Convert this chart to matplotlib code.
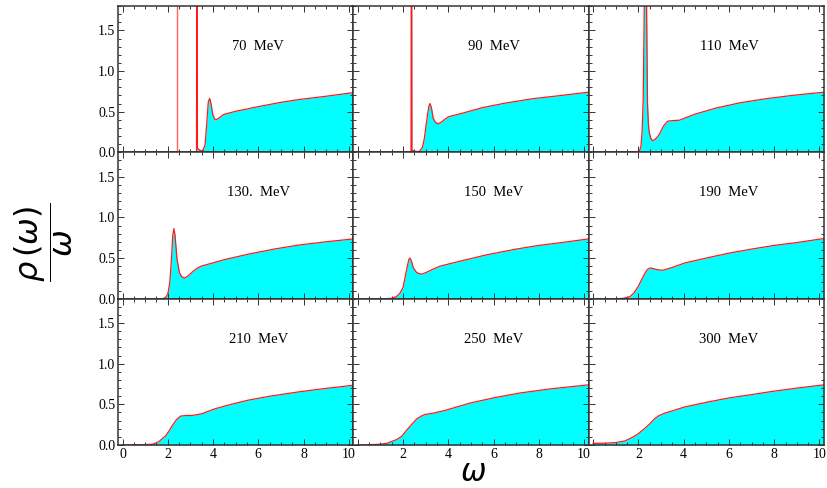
import matplotlib
matplotlib.use("Agg")
import matplotlib.pyplot as plt
from matplotlib.ticker import MultipleLocator, FixedLocator

# ---------------- data ----------------
labels = ["70  MeV", "90  MeV", "110  MeV",
          "130.  MeV", "150  MeV", "190  MeV",
          "210  MeV", "250  MeV", "300  MeV"]

w_70 = [0, 3.27, 3.29, 3.31, 3.40, 3.55, 3.65, 3.72, 3.79, 3.85, 3.91, 3.99, 4.07, 4.14,
        4.25, 4.46, 5.0, 6.05, 7.0, 7.81, 9.0, 10.2]
r_70 = [0, 0, 5.0, 0.05, 0.03, 0.01, 0.10, 0.35, 0.62, 0.663, 0.60, 0.465, 0.41, 0.40,
        0.42, 0.465, 0.505, 0.565, 0.615, 0.65, 0.69, 0.735]
spike_70 = [2.39]

w_90 = [0, 2.35, 2.37, 2.39, 2.49, 2.71, 2.85, 2.93, 3.0, 3.08, 3.14, 3.19, 3.25, 3.33,
        3.43, 3.55, 3.68, 3.82, 4.0, 4.6, 5.51, 6.5, 7.73, 9.0, 10.2]
r_90 = [0, 0, 5.0, 0.03, 0.012, 0.01, 0.06, 0.157, 0.30, 0.465, 0.57, 0.60, 0.55, 0.42,
        0.37, 0.35, 0.37, 0.40, 0.437, 0.48, 0.55, 0.605, 0.66, 0.70, 0.74]

w_110 = [0, 1.96, 2.05, 2.11, 2.16, 2.21, 2.25, 2.28, 2.31, 2.34, 2.37, 2.40, 2.44, 2.48,
         2.55, 2.62, 2.72, 2.82, 2.92, 3.1, 3.29, 3.5, 3.81, 4.5, 5.43, 6.5, 7.64, 8.8, 10.2]
r_110 = [0, 0, 0.02, 0.074, 0.25, 0.65, 1.6, 2.6, 3.0, 2.4, 1.5, 0.6, 0.35, 0.24,
         0.17, 0.145, 0.155, 0.185, 0.22, 0.32, 0.383, 0.39, 0.395, 0.47, 0.545, 0.61, 0.66, 0.70, 0.74]

w_130 = [0, 1.79, 1.92, 2.01, 2.09, 2.16, 2.22, 2.27, 2.32, 2.41, 2.52, 2.62, 2.74, 2.9,
         3.11, 3.3, 3.48, 4.5, 5.6, 6.7, 7.8, 9.0, 10.2]
r_130 = [0, 0, 0.02, 0.067, 0.20, 0.48, 0.78, 0.862, 0.78, 0.48, 0.315, 0.27, 0.253, 0.28,
         0.335, 0.375, 0.40, 0.48, 0.55, 0.61, 0.66, 0.70, 0.735]

w_150 = [0, 1.3, 1.49, 1.7, 1.86, 2.0, 2.15, 2.25, 2.30, 2.36, 2.45, 2.6, 2.81, 3.0,
         3.3, 3.63, 4.5, 5.7, 7.0, 8.0, 9.0, 10.2]
r_150 = [0, 0, 0.005, 0.025, 0.067, 0.14, 0.35, 0.48, 0.50, 0.47, 0.38, 0.32, 0.30, 0.32,
         0.36, 0.40, 0.46, 0.54, 0.61, 0.655, 0.69, 0.735]

w_190 = [0, 1.1, 1.35, 1.62, 1.8, 1.99, 2.15, 2.29, 2.4, 2.51, 2.65, 2.85, 3.1, 3.5,
         4.06, 5.0, 6.0, 7.0, 8.0, 9.0, 10.2]
r_190 = [0, 0, 0.005, 0.025, 0.07, 0.15, 0.24, 0.315, 0.36, 0.378, 0.37, 0.355, 0.35, 0.385,
         0.44, 0.50, 0.56, 0.61, 0.655, 0.69, 0.74]

w_210 = [0, 0.45, 1.0, 1.33, 1.6, 1.91, 2.05, 2.2, 2.38, 2.56, 2.8, 3.07, 3.5, 4.09,
         4.8, 5.53, 6.5, 7.7, 8.8, 10.2]
r_210 = [0, 0.003, 0.005, 0.01, 0.04, 0.115, 0.17, 0.24, 0.31, 0.355, 0.363, 0.363, 0.384, 0.446,
         0.50, 0.55, 0.60, 0.65, 0.69, 0.735]

w_250 = [0, 0.38, 0.9, 1.27, 1.71, 1.95, 2.15, 2.4, 2.6, 2.8, 2.96, 3.3, 3.85, 4.4,
         4.96, 6.0, 7.17, 8.5, 10.2]
r_250 = [0, 0.003, 0.008, 0.02, 0.066, 0.11, 0.18, 0.26, 0.32, 0.355, 0.375, 0.39, 0.425, 0.47,
         0.516, 0.58, 0.64, 0.69, 0.74]

w_300 = [0, 0.5, 1.0, 1.4, 1.74, 2.0, 2.26, 2.5, 2.7, 2.9, 3.14, 3.5, 4.03, 5.0,
         6.02, 7.0, 7.93, 9.0, 10.2]
r_300 = [0.02, 0.022, 0.03, 0.05, 0.095, 0.14, 0.20, 0.26, 0.32, 0.36, 0.39, 0.42, 0.467, 0.525,
         0.58, 0.62, 0.66, 0.70, 0.74]

series = [(w_70, r_70), (w_90, r_90), (w_110, r_110),
          (w_130, r_130), (w_150, r_150), (w_190, r_190),
          (w_210, r_210), (w_250, r_250), (w_300, r_300)]
spikes = {0: spike_70}

x_ticks = [0, 2, 4, 6, 8, 10]
y_ticks = [0.0, 0.5, 1.0, 1.5]

# ---------------- figure ----------------
plt.rcParams['mathtext.fontset'] = 'dejavusans'
serif = ['Liberation Serif', 'DejaVu Serif']

fig = plt.figure(figsize=(8.28, 4.88), dpi=100)
L, R, T, B = 118 / 828, 824 / 828, 1 - 6 / 488, 1 - 445 / 488
fig.subplots_adjust(left=L, right=R, top=T, bottom=B, wspace=0, hspace=0)
axes = fig.subplots(3, 3, sharex=False, sharey=False)

for i, ax in enumerate(axes.flat):
    row, col = divmod(i, 3)
    w, r = series[i]
    ax.fill_between(w, r, 0, color='#00ffff', lw=0, zorder=1)
    ax.plot(w, r, color='#ff1a1a', lw=0.9, zorder=2)
    for s in spikes.get(i, []):
        ax.vlines(s, 0, 1.8, color='#ff6060', lw=1.0, zorder=2)
    ax.set_xlim(-0.2, 10.2)
    ax.set_ylim(0, 1.8)
    ax.xaxis.set_major_locator(FixedLocator(x_ticks))
    ax.xaxis.set_minor_locator(MultipleLocator(0.5))
    ax.yaxis.set_major_locator(FixedLocator(y_ticks))
    ax.yaxis.set_minor_locator(MultipleLocator(0.1))
    ax.tick_params(which='both', direction='in', top=True, right=True,
                   color='#333333', width=0.7)
    ax.tick_params(which='major', length=4)
    ax.tick_params(which='minor', length=2)
    for sp in ax.spines.values():
        sp.set_color('#333333')
        sp.set_linewidth(1.1)
        sp.set_zorder(3)
    if col == 0:
        ax.set_yticklabels([f"{v:.1f}" for v in y_ticks], fontfamily=serif, fontsize=10)
    else:
        ax.set_yticklabels([])
    if row == 2:
        lab = [str(v) for v in x_ticks]
        if col > 0:
            lab[0] = ''
        ax.set_xticklabels(lab, fontfamily=serif, fontsize=10)
    else:
        ax.set_xticklabels([])
    ax.tick_params(axis='both', pad=2)
    ax.text(6.0, 1.3, labels[i], ha='center', va='center', fontfamily=serif, fontsize=10.5)

fig.text(44 / 828, 1 - 242 / 488, r'$\dfrac{\rho\,(\omega)}{\omega}$', rotation=90,
         ha='center', va='center', fontsize=23)
fig.text(473 / 828, 1 - 481 / 488, r'$\omega$', ha='center', va='baseline', fontsize=22)

fig.savefig('out.png', dpi=100)
